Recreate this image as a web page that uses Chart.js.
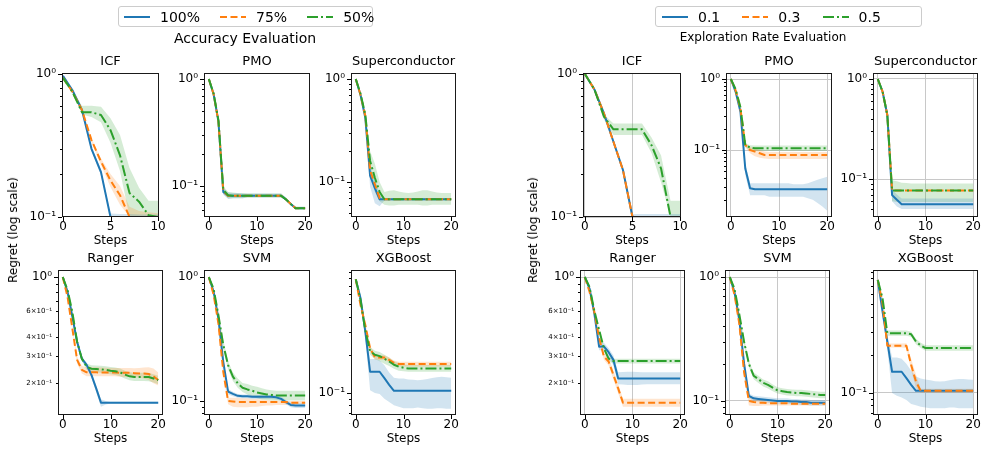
<!DOCTYPE html>
<html>
<head>
<meta charset="utf-8">
<script src="https://cdn.jsdelivr.net/npm/chart.js@4.4.1/dist/chart.umd.min.js"></script>
<style>
  body { margin: 0; background: #fff; width: 997px; height: 471px; position: relative; overflow: hidden; font-family: "DejaVu Sans", sans-serif; color: #000; }
  .plot { position: absolute; }
  .sup { position: absolute; white-space: nowrap; transform: translate(-50%, -50%); }
  .ylab { position: absolute; white-space: nowrap; font-size: 12px; transform: translate(-50%, -50%) rotate(-90deg); }
  .legend { position: absolute; height: 21px; border: 1px solid #cccccc; border-radius: 3px; background: #fff; display: flex; align-items: center; font-size: 14px; box-sizing: border-box; }
  .legend .item { display: flex; align-items: center; }
  .legend svg { display: block; }
</style>
</head>
<body>
<script>
// steps on the x axis
const stepsShort = [0, 1, 2, 3, 4, 5, 6, 7, 8, 9, 10];
const stepsLong = [0, 1, 2, 3, 4, 5, 6, 7, 8, 9, 10, 11, 12, 13, 14, 15, 16, 17, 18, 19, 20];

const accLabels = ['100%', '75%', '50%'];
const expLabels = ['0.1', '0.3', '0.5'];
const panelTitles = ['ICF', 'PMO', 'Superconductor', 'Ranger', 'SVM', 'XGBoost'];

// ---- Accuracy Evaluation ----
const accIcf100 = [0.97, 0.77, 0.56, 0.30, 0.206, 0.1, 0.1, 0.1, 0.1, 0.1, 0.1];
const accIcf100Lo = [0.96, 0.76, 0.55, 0.29, 0.195, 0.1, 0.1, 0.1, 0.1, 0.1, 0.1];
const accIcf100Hi = [0.98, 0.78, 0.57, 0.31, 0.215, 0.106, 0.105, 0.105, 0.104, 0.104, 0.104];
const accIcf75 = [0.94, 0.75, 0.56, 0.345, 0.244, 0.18, 0.142, 0.1, 0.1, 0.1, 0.1];
const accIcf75Lo = [0.93, 0.74, 0.55, 0.335, 0.232, 0.162, 0.122, 0.1, 0.1, 0.1, 0.1];
const accIcf75Hi = [0.95, 0.76, 0.57, 0.355, 0.256, 0.2, 0.165, 0.118, 0.11, 0.108, 0.106];
const accIcf50 = [0.94, 0.75, 0.54, 0.54, 0.517, 0.405, 0.27, 0.147, 0.128, 0.103, 0.1];
const accIcf50Lo = [0.93, 0.74, 0.52, 0.5, 0.46, 0.33, 0.21, 0.1, 0.1, 0.1, 0.1];
const accIcf50Hi = [0.95, 0.76, 0.6, 0.6, 0.59, 0.49, 0.375, 0.22, 0.16, 0.13, 0.13];

const accPmo100 = [1.0, 0.72, 0.40, 0.088, 0.081, 0.081, 0.081, 0.081, 0.081, 0.081, 0.081, 0.081, 0.081, 0.081, 0.081, 0.081, 0.075, 0.068, 0.062, 0.062, 0.062];
const accPmo100Lo = [1.0, 0.71, 0.39, 0.083, 0.076, 0.077, 0.077, 0.077, 0.078, 0.078, 0.078, 0.078, 0.078, 0.078, 0.078, 0.078, 0.073, 0.066, 0.061, 0.061, 0.061];
const accPmo100Hi = [1.0, 0.73, 0.41, 0.095, 0.087, 0.086, 0.086, 0.085, 0.085, 0.085, 0.085, 0.085, 0.085, 0.085, 0.085, 0.085, 0.078, 0.07, 0.064, 0.064, 0.064];
const accPmo75 = [1.0, 0.72, 0.40, 0.09, 0.081, 0.081, 0.081, 0.081, 0.081, 0.081, 0.081, 0.081, 0.081, 0.081, 0.081, 0.081, 0.075, 0.068, 0.062, 0.062, 0.062];
const accPmo50 = [1.0, 0.73, 0.41, 0.092, 0.082, 0.081, 0.081, 0.081, 0.081, 0.081, 0.081, 0.081, 0.081, 0.081, 0.081, 0.081, 0.075, 0.068, 0.062, 0.062, 0.062];
const accPmo50Lo = [1.0, 0.71, 0.39, 0.085, 0.076, 0.077, 0.077, 0.077, 0.078, 0.078, 0.078, 0.078, 0.078, 0.078, 0.078, 0.078, 0.073, 0.066, 0.061, 0.061, 0.061];
const accPmo50Hi = [1.0, 0.74, 0.42, 0.1, 0.088, 0.087, 0.086, 0.086, 0.085, 0.085, 0.085, 0.085, 0.085, 0.085, 0.085, 0.085, 0.078, 0.07, 0.064, 0.064, 0.064];

const accSup100 = [1.0, 0.70, 0.42, 0.115, 0.087, 0.068, 0.068, 0.068, 0.068, 0.068, 0.068, 0.068, 0.068, 0.068, 0.068, 0.068, 0.068, 0.068, 0.068, 0.068, 0.068];
const accSup100Lo = [1.0, 0.69, 0.40, 0.09, 0.062, 0.058, 0.066, 0.066, 0.066, 0.066, 0.066, 0.066, 0.066, 0.066, 0.066, 0.066, 0.066, 0.066, 0.066, 0.066, 0.066];
const accSup100Hi = [1.0, 0.71, 0.44, 0.14, 0.11, 0.076, 0.07, 0.07, 0.07, 0.07, 0.07, 0.07, 0.07, 0.07, 0.07, 0.07, 0.07, 0.07, 0.07, 0.07, 0.07];
const accSup75 = [1.0, 0.70, 0.44, 0.13, 0.095, 0.07, 0.068, 0.068, 0.068, 0.068, 0.068, 0.068, 0.068, 0.068, 0.068, 0.068, 0.068, 0.068, 0.068, 0.068, 0.068];
const accSup50 = [1.0, 0.72, 0.45, 0.16, 0.11, 0.08, 0.068, 0.068, 0.068, 0.068, 0.068, 0.068, 0.068, 0.068, 0.068, 0.068, 0.068, 0.068, 0.068, 0.068, 0.068];
const accSup50Lo = [1.0, 0.70, 0.42, 0.12, 0.08, 0.065, 0.06, 0.059, 0.059, 0.06, 0.06, 0.06, 0.06, 0.06, 0.059, 0.059, 0.06, 0.06, 0.06, 0.06, 0.06];
const accSup50Hi = [1.0, 0.74, 0.48, 0.2, 0.15, 0.1, 0.08, 0.082, 0.083, 0.081, 0.079, 0.078, 0.079, 0.081, 0.083, 0.083, 0.081, 0.079, 0.078, 0.078, 0.078];

const accRan100 = [1.0, 0.80, 0.55, 0.375, 0.29, 0.264, 0.227, 0.185, 0.149, 0.149, 0.149, 0.149, 0.149, 0.149, 0.149, 0.149, 0.149, 0.149, 0.149, 0.149, 0.149];
const accRan100Lo = [1.0, 0.79, 0.54, 0.36, 0.28, 0.255, 0.218, 0.175, 0.14, 0.145, 0.147, 0.147, 0.147, 0.147, 0.147, 0.147, 0.147, 0.147, 0.147, 0.147, 0.147];
const accRan100Hi = [1.0, 0.81, 0.56, 0.39, 0.3, 0.273, 0.236, 0.193, 0.157, 0.153, 0.151, 0.151, 0.151, 0.151, 0.151, 0.151, 0.151, 0.151, 0.151, 0.151, 0.151];
const accRan75 = [1.0, 0.74, 0.46, 0.285, 0.245, 0.236, 0.236, 0.236, 0.235, 0.235, 0.235, 0.235, 0.234, 0.234, 0.234, 0.233, 0.232, 0.232, 0.23, 0.222, 0.21];
const accRan75Lo = [1.0, 0.73, 0.45, 0.27, 0.232, 0.222, 0.222, 0.222, 0.222, 0.222, 0.222, 0.222, 0.221, 0.22, 0.22, 0.219, 0.218, 0.215, 0.21, 0.2, 0.193];
const accRan75Hi = [1.0, 0.75, 0.47, 0.3, 0.26, 0.255, 0.255, 0.255, 0.254, 0.253, 0.252, 0.252, 0.252, 0.252, 0.252, 0.251, 0.252, 0.254, 0.255, 0.25, 0.235];
const accRan50 = [1.0, 0.82, 0.59, 0.375, 0.29, 0.257, 0.249, 0.248, 0.247, 0.245, 0.242, 0.24, 0.236, 0.228, 0.222, 0.22, 0.22, 0.22, 0.22, 0.215, 0.21];
const accRan50Lo = [1.0, 0.81, 0.58, 0.36, 0.28, 0.245, 0.236, 0.235, 0.234, 0.232, 0.229, 0.227, 0.222, 0.215, 0.209, 0.207, 0.207, 0.207, 0.206, 0.202, 0.197];
const accRan50Hi = [1.0, 0.83, 0.6, 0.39, 0.3, 0.27, 0.263, 0.262, 0.261, 0.259, 0.256, 0.254, 0.25, 0.242, 0.236, 0.234, 0.234, 0.234, 0.234, 0.229, 0.224];

const accSvm100 = [1.0, 0.76, 0.46, 0.207, 0.119, 0.114, 0.110, 0.109, 0.109, 0.108, 0.108, 0.108, 0.108, 0.108, 0.107, 0.104, 0.098, 0.093, 0.092, 0.092, 0.092];
const accSvm100Lo = [1.0, 0.75, 0.45, 0.2, 0.113, 0.109, 0.106, 0.105, 0.105, 0.104, 0.104, 0.104, 0.104, 0.104, 0.103, 0.1, 0.094, 0.089, 0.088, 0.088, 0.088];
const accSvm100Hi = [1.0, 0.77, 0.47, 0.215, 0.125, 0.119, 0.114, 0.113, 0.113, 0.112, 0.112, 0.112, 0.112, 0.112, 0.111, 0.108, 0.102, 0.097, 0.096, 0.096, 0.096];
const accSvm75 = [1.0, 0.72, 0.42, 0.172, 0.100, 0.099, 0.098, 0.098, 0.098, 0.098, 0.098, 0.098, 0.098, 0.098, 0.098, 0.098, 0.098, 0.097, 0.097, 0.097, 0.097];
const accSvm75Lo = [1.0, 0.71, 0.40, 0.16, 0.094, 0.09, 0.089, 0.089, 0.089, 0.09, 0.09, 0.091, 0.092, 0.092, 0.093, 0.093, 0.093, 0.094, 0.094, 0.094, 0.094];
const accSvm75Hi = [1.0, 0.73, 0.44, 0.185, 0.106, 0.106, 0.106, 0.105, 0.105, 0.104, 0.104, 0.103, 0.102, 0.101, 0.101, 0.1, 0.1, 0.1, 0.1, 0.1, 0.1];
const accSvm50 = [1.0, 0.80, 0.49, 0.283, 0.195, 0.157, 0.139, 0.128, 0.124, 0.121, 0.117, 0.115, 0.113, 0.112, 0.111, 0.111, 0.111, 0.111, 0.111, 0.111, 0.111];
const accSvm50Lo = [1.0, 0.79, 0.47, 0.26, 0.18, 0.145, 0.128, 0.118, 0.113, 0.108, 0.105, 0.103, 0.102, 0.101, 0.101, 0.101, 0.101, 0.101, 0.101, 0.101, 0.101];
const accSvm50Hi = [1.0, 0.81, 0.51, 0.31, 0.21, 0.17, 0.152, 0.14, 0.137, 0.133, 0.13, 0.127, 0.124, 0.122, 0.121, 0.121, 0.121, 0.121, 0.121, 0.121, 0.121];

const accXgb100 = [0.786, 0.557, 0.304, 0.147, 0.147, 0.147, 0.131, 0.116, 0.104, 0.104, 0.104, 0.104, 0.104, 0.104, 0.104, 0.104, 0.104, 0.104, 0.104, 0.104, 0.104];
const accXgb100Lo = [0.78, 0.54, 0.27, 0.105, 0.1, 0.098, 0.09, 0.085, 0.08, 0.078, 0.076, 0.076, 0.076, 0.077, 0.076, 0.075, 0.075, 0.076, 0.076, 0.075, 0.075];
const accXgb100Hi = [0.79, 0.575, 0.335, 0.185, 0.185, 0.18, 0.165, 0.145, 0.132, 0.13, 0.13, 0.128, 0.127, 0.126, 0.127, 0.129, 0.131, 0.133, 0.134, 0.133, 0.132];
const accXgb75 = [0.786, 0.493, 0.343, 0.225, 0.191, 0.19, 0.19, 0.182, 0.173, 0.169, 0.169, 0.169, 0.169, 0.169, 0.169, 0.169, 0.169, 0.169, 0.169, 0.169, 0.169];
const accXgb75Lo = [0.78, 0.48, 0.33, 0.215, 0.183, 0.182, 0.182, 0.175, 0.166, 0.162, 0.162, 0.162, 0.162, 0.162, 0.162, 0.162, 0.162, 0.162, 0.162, 0.162, 0.162];
const accXgb75Hi = [0.79, 0.505, 0.355, 0.235, 0.199, 0.198, 0.198, 0.19, 0.18, 0.176, 0.176, 0.176, 0.176, 0.176, 0.176, 0.176, 0.176, 0.176, 0.176, 0.176, 0.176];
const accXgb50 = [0.786, 0.54, 0.31, 0.214, 0.2, 0.195, 0.186, 0.177, 0.167, 0.161, 0.158, 0.156, 0.156, 0.156, 0.156, 0.156, 0.156, 0.156, 0.156, 0.156, 0.156];
const accXgb50Lo = [0.78, 0.53, 0.3, 0.2, 0.185, 0.178, 0.17, 0.163, 0.155, 0.15, 0.148, 0.147, 0.147, 0.147, 0.147, 0.147, 0.147, 0.147, 0.147, 0.147, 0.147];
const accXgb50Hi = [0.79, 0.55, 0.32, 0.23, 0.215, 0.21, 0.2, 0.19, 0.178, 0.172, 0.168, 0.166, 0.166, 0.166, 0.166, 0.166, 0.166, 0.166, 0.166, 0.166, 0.166];

// ---- Exploration Rate Evaluation ----
const expIcf01 = [1.0, 0.78, 0.53, 0.336, 0.213, 0.1, 0.1, 0.1, 0.1, 0.1, 0.1];
const expIcf01Lo = [1.0, 0.77, 0.52, 0.33, 0.207, 0.1, 0.1, 0.1, 0.1, 0.1, 0.1];
const expIcf01Hi = [1.0, 0.79, 0.54, 0.342, 0.22, 0.105, 0.105, 0.105, 0.105, 0.105, 0.105];
const expIcf03 = [1.0, 0.78, 0.53, 0.336, 0.213, 0.1, 0.1, 0.1, 0.1, 0.1, 0.1];
const expIcf05 = [1.0, 0.78, 0.503, 0.41, 0.41, 0.41, 0.41, 0.318, 0.219, 0.1, 0.1];
const expIcf05Lo = [1.0, 0.77, 0.48, 0.375, 0.375, 0.375, 0.375, 0.28, 0.175, 0.1, 0.1];
const expIcf05Hi = [1.0, 0.79, 0.52, 0.45, 0.45, 0.45, 0.45, 0.36, 0.27, 0.13, 0.13];

const expPmo01 = [1.0, 0.66, 0.346, 0.055, 0.029, 0.028, 0.028, 0.028, 0.028, 0.028, 0.028, 0.028, 0.028, 0.028, 0.028, 0.028, 0.028, 0.028, 0.028, 0.028, 0.028];
const expPmo01Lo = [1.0, 0.65, 0.33, 0.045, 0.023, 0.023, 0.023, 0.023, 0.022, 0.022, 0.022, 0.022, 0.022, 0.022, 0.022, 0.022, 0.021, 0.02, 0.018, 0.016, 0.014];
const expPmo01Hi = [1.0, 0.67, 0.36, 0.065, 0.034, 0.034, 0.034, 0.034, 0.034, 0.034, 0.034, 0.034, 0.034, 0.033, 0.033, 0.033, 0.034, 0.036, 0.038, 0.04, 0.042];
const expPmo03 = [1.0, 0.69, 0.38, 0.118, 0.1, 0.095, 0.09, 0.085, 0.085, 0.085, 0.085, 0.085, 0.085, 0.085, 0.085, 0.085, 0.085, 0.085, 0.085, 0.085, 0.085];
const expPmo03Lo = [1.0, 0.68, 0.37, 0.11, 0.09, 0.082, 0.078, 0.076, 0.075, 0.075, 0.075, 0.075, 0.075, 0.075, 0.075, 0.075, 0.075, 0.075, 0.075, 0.075, 0.075];
const expPmo03Hi = [1.0, 0.70, 0.39, 0.125, 0.11, 0.105, 0.1, 0.095, 0.094, 0.094, 0.094, 0.094, 0.094, 0.094, 0.094, 0.094, 0.094, 0.094, 0.094, 0.094, 0.094];
const expPmo05 = [1.0, 0.72, 0.40, 0.118, 0.108, 0.106, 0.106, 0.106, 0.106, 0.106, 0.106, 0.106, 0.106, 0.106, 0.106, 0.106, 0.106, 0.106, 0.106, 0.106, 0.106];
const expPmo05Lo = [1.0, 0.71, 0.39, 0.11, 0.098, 0.097, 0.097, 0.097, 0.097, 0.097, 0.097, 0.097, 0.097, 0.097, 0.097, 0.097, 0.097, 0.097, 0.097, 0.097, 0.097];
const expPmo05Hi = [1.0, 0.73, 0.41, 0.125, 0.117, 0.116, 0.116, 0.116, 0.116, 0.116, 0.116, 0.116, 0.116, 0.116, 0.116, 0.116, 0.116, 0.116, 0.116, 0.116, 0.116];

const expSup01 = [1.0, 0.75, 0.437, 0.069, 0.062, 0.056, 0.056, 0.056, 0.056, 0.056, 0.056, 0.056, 0.056, 0.056, 0.056, 0.056, 0.056, 0.056, 0.056, 0.056, 0.056];
const expSup01Lo = [1.0, 0.74, 0.42, 0.06, 0.053, 0.05, 0.05, 0.05, 0.05, 0.05, 0.05, 0.05, 0.05, 0.05, 0.05, 0.05, 0.05, 0.05, 0.05, 0.05, 0.05];
const expSup01Hi = [1.0, 0.76, 0.45, 0.078, 0.07, 0.064, 0.064, 0.064, 0.064, 0.064, 0.064, 0.064, 0.064, 0.064, 0.064, 0.064, 0.064, 0.064, 0.064, 0.064, 0.064];
const expSup03 = [1.0, 0.75, 0.437, 0.0766, 0.0766, 0.0766, 0.0766, 0.0766, 0.0766, 0.0766, 0.0766, 0.0766, 0.0766, 0.0766, 0.0766, 0.0766, 0.0766, 0.0766, 0.0766, 0.0766, 0.0766];
const expSup05 = [1.0, 0.75, 0.437, 0.0766, 0.0766, 0.0766, 0.0766, 0.0766, 0.0766, 0.0766, 0.0766, 0.0766, 0.0766, 0.0766, 0.0766, 0.0766, 0.0766, 0.0766, 0.0766, 0.0766, 0.0766];
const expSup05Lo = [1.0, 0.74, 0.42, 0.06, 0.059, 0.059, 0.059, 0.059, 0.059, 0.059, 0.059, 0.059, 0.059, 0.059, 0.059, 0.059, 0.059, 0.059, 0.059, 0.059, 0.059];
const expSup05Hi = [1.0, 0.76, 0.45, 0.097, 0.095, 0.092, 0.091, 0.09, 0.09, 0.09, 0.09, 0.09, 0.09, 0.09, 0.09, 0.09, 0.09, 0.09, 0.09, 0.09, 0.09];

const expRan01 = [1.0, 0.84, 0.577, 0.348, 0.35, 0.32, 0.285, 0.215, 0.215, 0.215, 0.215, 0.215, 0.215, 0.215, 0.215, 0.215, 0.215, 0.215, 0.215, 0.215, 0.215];
const expRan01Lo = [1.0, 0.83, 0.56, 0.33, 0.33, 0.3, 0.262, 0.197, 0.196, 0.195, 0.195, 0.195, 0.196, 0.197, 0.197, 0.197, 0.197, 0.197, 0.197, 0.197, 0.197];
const expRan01Hi = [1.0, 0.85, 0.59, 0.365, 0.37, 0.34, 0.305, 0.236, 0.237, 0.238, 0.238, 0.237, 0.236, 0.236, 0.236, 0.236, 0.236, 0.236, 0.236, 0.236, 0.236];
const expRan03 = [1.0, 0.8, 0.59, 0.4, 0.30, 0.278, 0.227, 0.185, 0.149, 0.149, 0.149, 0.149, 0.149, 0.149, 0.149, 0.149, 0.149, 0.149, 0.149, 0.149, 0.149];
const expRan03Lo = [1.0, 0.79, 0.575, 0.385, 0.285, 0.262, 0.212, 0.172, 0.14, 0.14, 0.14, 0.14, 0.14, 0.14, 0.14, 0.14, 0.14, 0.14, 0.14, 0.14, 0.14];
const expRan03Hi = [1.0, 0.81, 0.605, 0.415, 0.315, 0.294, 0.242, 0.198, 0.158, 0.158, 0.158, 0.158, 0.158, 0.158, 0.158, 0.158, 0.158, 0.158, 0.158, 0.158, 0.158];
const expRan05 = [1.0, 0.86, 0.6, 0.45, 0.34, 0.29, 0.28, 0.28, 0.28, 0.28, 0.28, 0.28, 0.28, 0.28, 0.28, 0.28, 0.28, 0.28, 0.28, 0.28, 0.28];
const expRan05Lo = [1.0, 0.85, 0.59, 0.44, 0.33, 0.28, 0.27, 0.27, 0.27, 0.27, 0.27, 0.27, 0.27, 0.27, 0.27, 0.27, 0.27, 0.27, 0.27, 0.27, 0.27];
const expRan05Hi = [1.0, 0.87, 0.61, 0.46, 0.35, 0.3, 0.29, 0.29, 0.29, 0.29, 0.29, 0.29, 0.29, 0.29, 0.29, 0.29, 0.29, 0.29, 0.29, 0.29, 0.29];

const expSvm01 = [1.0, 0.75, 0.45, 0.2, 0.11, 0.105, 0.104, 0.103, 0.102, 0.101, 0.1, 0.1, 0.1, 0.099, 0.099, 0.098, 0.098, 0.097, 0.097, 0.097, 0.097];
const expSvm01Lo = [1.0, 0.74, 0.44, 0.19, 0.105, 0.1, 0.099, 0.098, 0.097, 0.096, 0.095, 0.095, 0.095, 0.094, 0.094, 0.093, 0.093, 0.092, 0.092, 0.092, 0.092];
const expSvm01Hi = [1.0, 0.76, 0.46, 0.21, 0.115, 0.11, 0.109, 0.108, 0.107, 0.106, 0.105, 0.105, 0.105, 0.104, 0.104, 0.103, 0.103, 0.102, 0.102, 0.102, 0.102];
const expSvm03 = [1.0, 0.72, 0.42, 0.17, 0.1, 0.098, 0.097, 0.097, 0.096, 0.096, 0.096, 0.096, 0.096, 0.095, 0.095, 0.095, 0.095, 0.095, 0.095, 0.095, 0.095];
const expSvm03Lo = [1.0, 0.71, 0.4, 0.155, 0.092, 0.091, 0.091, 0.092, 0.092, 0.092, 0.092, 0.092, 0.092, 0.092, 0.092, 0.092, 0.092, 0.092, 0.092, 0.092, 0.092];
const expSvm03Hi = [1.0, 0.73, 0.44, 0.19, 0.112, 0.106, 0.103, 0.101, 0.1, 0.099, 0.099, 0.099, 0.099, 0.098, 0.098, 0.098, 0.098, 0.098, 0.098, 0.098, 0.098];
const expSvm05 = [1.0, 0.8, 0.5, 0.3, 0.2, 0.16, 0.15, 0.14, 0.135, 0.128, 0.122, 0.12, 0.118, 0.117, 0.116, 0.116, 0.115, 0.114, 0.113, 0.112, 0.112];
const expSvm05Lo = [1.0, 0.79, 0.48, 0.28, 0.188, 0.15, 0.14, 0.131, 0.126, 0.12, 0.115, 0.113, 0.111, 0.11, 0.109, 0.109, 0.108, 0.107, 0.106, 0.105, 0.105];
const expSvm05Hi = [1.0, 0.81, 0.52, 0.32, 0.212, 0.17, 0.16, 0.149, 0.144, 0.136, 0.129, 0.127, 0.125, 0.124, 0.123, 0.123, 0.122, 0.121, 0.12, 0.119, 0.119];

const expXgb01 = [0.777, 0.437, 0.254, 0.147, 0.147, 0.147, 0.131, 0.116, 0.104, 0.104, 0.104, 0.104, 0.104, 0.104, 0.104, 0.104, 0.104, 0.104, 0.104, 0.104, 0.104];
const expXgb01Lo = [0.77, 0.42, 0.22, 0.1, 0.095, 0.092, 0.088, 0.082, 0.08, 0.078, 0.077, 0.076, 0.076, 0.076, 0.076, 0.077, 0.077, 0.076, 0.076, 0.076, 0.076];
const expXgb01Hi = [0.785, 0.46, 0.29, 0.19, 0.19, 0.186, 0.17, 0.15, 0.135, 0.13, 0.128, 0.126, 0.124, 0.123, 0.124, 0.126, 0.128, 0.129, 0.129, 0.128, 0.127];
const expXgb03 = [0.777, 0.508, 0.236, 0.236, 0.236, 0.236, 0.236, 0.166, 0.123, 0.104, 0.104, 0.104, 0.104, 0.104, 0.104, 0.104, 0.104, 0.104, 0.104, 0.104, 0.104];
const expXgb03Lo = [0.77, 0.5, 0.228, 0.228, 0.228, 0.228, 0.226, 0.15, 0.11, 0.1, 0.1, 0.1, 0.1, 0.1, 0.1, 0.1, 0.1, 0.1, 0.1, 0.1, 0.1];
const expXgb03Hi = [0.785, 0.516, 0.245, 0.245, 0.245, 0.245, 0.246, 0.185, 0.14, 0.108, 0.108, 0.108, 0.108, 0.108, 0.108, 0.108, 0.108, 0.108, 0.108, 0.108, 0.108];
const expXgb05 = [0.777, 0.557, 0.295, 0.295, 0.295, 0.295, 0.295, 0.29, 0.254, 0.237, 0.226, 0.226, 0.226, 0.226, 0.226, 0.226, 0.226, 0.226, 0.226, 0.226, 0.226];
const expXgb05Lo = [0.77, 0.545, 0.282, 0.282, 0.282, 0.282, 0.282, 0.277, 0.242, 0.226, 0.215, 0.215, 0.215, 0.215, 0.215, 0.215, 0.215, 0.215, 0.215, 0.215, 0.215];
const expXgb05Hi = [0.785, 0.57, 0.31, 0.31, 0.31, 0.31, 0.31, 0.304, 0.267, 0.249, 0.238, 0.238, 0.238, 0.238, 0.238, 0.238, 0.238, 0.238, 0.238, 0.238, 0.238];

// styling
const FONT = 'DejaVu Sans';
const lineColors = ['#1f77b4', '#ff7f0e', '#2ca02c'];
const bandColors = ['rgba(31,119,180,0.2)', 'rgba(255,127,14,0.2)', 'rgba(44,160,44,0.2)'];
const lineDashes = [[], [7, 3.5], [11, 3, 2, 3]];

const Y_AXIS_W = 50, X_AXIS_H = 31, TITLE_H = 22, PAD_R = 12;

// panel layout: box = [left, top, width, height] of the plot area
const panels = [
  { title: panelTitles[0], box: [62, 73, 97, 144], x: [-0.1, 10.1], xticks: [0, 5, 10], y: [0.1, 1.016], ylab: [1, 0.1], steps: stepsShort, grid: false,
    series: [[accIcf100, accIcf100Lo, accIcf100Hi], [accIcf75, accIcf75Lo, accIcf75Hi], [accIcf50, accIcf50Lo, accIcf50Hi]] },
  { title: panelTitles[1], box: [204, 73, 106, 144], x: [-1, 21], xticks: [0, 10, 20], y: [0.0513, 1.138], ylab: [1, 0.1], steps: stepsLong, grid: false,
    series: [[accPmo100, accPmo100Lo, accPmo100Hi], [accPmo75], [accPmo50, accPmo50Lo, accPmo50Hi]] },
  { title: panelTitles[2], box: [351, 73, 105, 144], x: [-1, 21], xticks: [0, 10, 20], y: [0.0457, 1.144], ylab: [1, 0.1], steps: stepsLong, grid: false,
    series: [[accSup100, accSup100Lo, accSup100Hi], [accSup75], [accSup50, accSup50Lo, accSup50Hi]] },
  { title: panelTitles[3], box: [58, 270, 105, 145], x: [-1, 21], xticks: [0, 10, 20], y: [0.1236, 1.112], ylab: [1, 0.6, 0.4, 0.3, 0.2], steps: stepsLong, grid: false,
    series: [[accRan100, accRan100Lo, accRan100Hi], [accRan75, accRan75Lo, accRan75Hi], [accRan50, accRan50Lo, accRan50Hi]] },
  { title: panelTitles[4], box: [204, 270, 106, 145], x: [-1, 21], xticks: [0, 10, 20], y: [0.0771, 1.139], ylab: [1, 0.1], steps: stepsLong, grid: false,
    series: [[accSvm100, accSvm100Lo, accSvm100Hi], [accSvm75, accSvm75Lo, accSvm75Hi], [accSvm50, accSvm50Lo, accSvm50Hi]] },
  { title: panelTitles[5], box: [351, 270, 105, 145], x: [-1, 21], xticks: [0, 10, 20], y: [0.0671, 0.93], ylab: [0.1], steps: stepsLong, grid: false,
    series: [[accXgb100, accXgb100Lo, accXgb100Hi], [accXgb75, accXgb75Lo, accXgb75Hi], [accXgb50, accXgb50Lo, accXgb50Hi]] },

  { title: panelTitles[0], box: [583, 73, 98, 144], x: [-0.2, 10.1], xticks: [0, 5, 10], y: [0.1, 1.016], ylab: [1, 0.1], steps: stepsShort, grid: true,
    series: [[expIcf01, expIcf01Lo, expIcf01Hi], [expIcf03], [expIcf05, expIcf05Lo, expIcf05Hi]] },
  { title: panelTitles[1], box: [726, 73, 106, 144], x: [-1, 21], xticks: [0, 10, 20], y: [0.0114, 1.215], ylab: [1, 0.1], steps: stepsLong, grid: true,
    series: [[expPmo01, expPmo01Lo, expPmo01Hi], [expPmo03, expPmo03Lo, expPmo03Hi], [expPmo05, expPmo05Lo, expPmo05Hi]] },
  { title: panelTitles[2], box: [873, 73, 105, 144], x: [-1, 21], xticks: [0, 10, 20], y: [0.0417, 1.148], ylab: [1, 0.1], steps: stepsLong, grid: true,
    series: [[expSup01, expSup01Lo, expSup01Hi], [expSup03], [expSup05, expSup05Lo, expSup05Hi]] },
  { title: panelTitles[3], box: [580, 270, 105, 145], x: [-1, 21], xticks: [0, 10, 20], y: [0.1236, 1.112], ylab: [1, 0.6, 0.4, 0.3, 0.2], steps: stepsLong, grid: true,
    series: [[expRan01, expRan01Lo, expRan01Hi], [expRan03, expRan03Lo, expRan03Hi], [expRan05, expRan05Lo, expRan05Hi]] },
  { title: panelTitles[4], box: [725, 270, 105, 145], x: [-1, 21], xticks: [0, 10, 20], y: [0.0771, 1.139], ylab: [1, 0.1], steps: stepsLong, grid: true,
    series: [[expSvm01, expSvm01Lo, expSvm01Hi], [expSvm03, expSvm03Lo, expSvm03Hi], [expSvm05, expSvm05Lo, expSvm05Hi]] },
  { title: panelTitles[5], box: [873, 270, 105, 145], x: [-1, 21], xticks: [0, 10, 20], y: [0.0671, 0.93], ylab: [0.1], steps: stepsLong, grid: true,
    series: [[expXgb01, expXgb01Lo, expXgb01Hi], [expXgb03, expXgb03Lo, expXgb03Hi], [expXgb05, expXgb05Lo, expXgb05Hi]] }
];

const SUP = { '0': '⁰', '1': '¹', '2': '²', '3': '³', '-': '⁻' };
function isPow10(v) {
  const l = Math.log10(v);
  return Math.abs(l - Math.round(l)) < 1e-6;
}
function logLabel(v) {
  const e = Math.floor(Math.log10(v) + 1e-9);
  const m = Math.round(v / Math.pow(10, e));
  const p = '10' + String(e).split('').map(c => SUP[c]).join('');
  return m === 1 ? p : m + '×' + p;
}

// ticks outside the box and the box itself, like matplotlib spines
const axesFrame = {
  id: 'axesFrame',
  afterDraw(chart) {
    const { ctx, chartArea: a, scales: { x, y } } = chart;
    ctx.save();
    ctx.strokeStyle = '#000';
    ctx.lineWidth = 1;
    ctx.beginPath();
    const lo = Math.floor(Math.log10(y.min)), hi = Math.ceil(Math.log10(y.max));
    for (let n = lo; n <= hi; n++) {
      for (let k = 1; k < 10; k++) {
        const v = k * Math.pow(10, n);
        if (v < y.min || v > y.max) continue;
        const py = Math.round(y.getPixelForValue(v)) + 0.5;
        const len = k === 1 ? 4 : 2;
        ctx.moveTo(a.left - len, py);
        ctx.lineTo(a.left, py);
      }
    }
    x.ticks.forEach(t => {
      const px = Math.round(x.getPixelForValue(t.value)) + 0.5;
      ctx.moveTo(px, a.bottom);
      ctx.lineTo(px, a.bottom + 4);
    });
    ctx.stroke();
    ctx.strokeStyle = '#1a1a1a';
    ctx.strokeRect(a.left + 0.5, a.top + 0.5, a.width - 1, a.height - 1);
    ctx.restore();
  }
};

function pts(steps, vals) {
  return steps.map((s, i) => ({ x: s, y: vals[i] }));
}

function makePanel(p) {
  const c = document.createElement('canvas');
  c.className = 'plot';
  c.width = Y_AXIS_W + p.box[2] + PAD_R;
  c.height = TITLE_H + p.box[3] + X_AXIS_H;
  c.style.left = (p.box[0] - Y_AXIS_W) + 'px';
  c.style.top = (p.box[1] - TITLE_H) + 'px';
  document.body.appendChild(c);

  const datasets = [];
  p.series.forEach((s, i) => {
    if (s[1] && s[2]) {
      datasets.push({ data: pts(p.steps, s[1]), borderWidth: 0, pointRadius: 0, fill: false, order: 10 });
      datasets.push({ data: pts(p.steps, s[2]), borderWidth: 0, pointRadius: 0, fill: '-1', backgroundColor: bandColors[i], order: 10 });
    }
    datasets.push({
      data: pts(p.steps, s[0]), borderColor: lineColors[i], borderWidth: 2, borderDash: lineDashes[i],
      borderJoinStyle: 'round', pointRadius: 0, fill: false, tension: 0, order: 3 - i
    });
  });

  new Chart(c, {
    type: 'line',
    data: { datasets },
    options: {
      responsive: false,
      animation: false,
      events: [],
      layout: { padding: { left: 0, right: PAD_R, top: 0, bottom: 0 } },
      plugins: {
        legend: { display: false },
        tooltip: { enabled: false },
        // not full size, so the title is centred over the plot box only
        title: {
          display: true, fullSize: false, text: p.title, color: '#000',
          font: { family: FONT, size: 13, weight: 'normal', lineHeight: '16px' },
          padding: { top: 3, bottom: 3 }
        }
      },
      scales: {
        x: {
          type: 'linear', bounds: 'data', min: p.x[0], max: p.x[1],
          afterBuildTicks: s => { s.ticks = p.xticks.map(v => ({ value: v })); },
          afterFit: s => { s.height = X_AXIS_H; },
          ticks: { autoSkip: false, maxRotation: 0, padding: 3, color: '#000', font: { family: FONT, size: 12 }, callback: v => String(v) },
          grid: { display: p.grid, drawTicks: false, color: '#c8c8c8', lineWidth: 1 },
          border: { display: false },
          title: { display: true, text: 'Steps', color: '#000', font: { family: FONT, size: 12 }, padding: { top: 0, bottom: 0 } }
        },
        y: {
          type: 'logarithmic', bounds: 'data', min: p.y[0], max: p.y[1],
          afterBuildTicks: s => { s.ticks = p.ylab.map(v => ({ value: v })); },
          afterFit: s => { s.width = Y_AXIS_W; },
          ticks: {
            autoSkip: false, padding: 6, color: '#000',
            font: ctx => ({ family: FONT, size: (ctx.tick && !isPow10(ctx.tick.value)) ? 7 : 12 }),
            callback: v => logLabel(v)
          },
          grid: {
            display: p.grid, drawTicks: false, lineWidth: 1,
            color: ctx => (ctx.tick && isPow10(ctx.tick.value)) ? '#c8c8c8' : 'rgba(0,0,0,0)'
          },
          border: { display: false }
        }
      }
    },
    plugins: [axesFrame]
  });
}

function makeText(cls, text, x, y, size) {
  const d = document.createElement('div');
  d.className = cls;
  d.textContent = text;
  d.style.left = x + 'px';
  d.style.top = y + 'px';
  if (size) d.style.fontSize = size + 'px';
  document.body.appendChild(d);
}

function makeLegend(labels, left, top, width, padL, gapText, gapItem) {
  const box = document.createElement('div');
  box.className = 'legend';
  box.style.left = left + 'px';
  box.style.top = top + 'px';
  box.style.width = width + 'px';
  box.style.paddingLeft = padL + 'px';
  labels.forEach((lab, i) => {
    const item = document.createElement('div');
    item.className = 'item';
    item.style.marginRight = gapItem + 'px';
    const dash = lineDashes[i].length ? ' stroke-dasharray="' + lineDashes[i].join(' ') + '"' : '';
    item.innerHTML = '<svg width="26" height="10"><line x1="0" y1="5" x2="26" y2="5" stroke="' + lineColors[i] +
      '" stroke-width="2"' + dash + '/></svg><span style="margin-left:' + gapText + 'px">' + lab + '</span>';
    box.appendChild(item);
  });
  document.body.appendChild(box);
}

panels.forEach(makePanel);

makeLegend(accLabels, 118, 6, 255, 5, 10, 20);
makeLegend(expLabels, 655, 6, 267, 6, 10, 22);
makeText('sup', 'Accuracy Evaluation', 245, 38, 14);
makeText('sup', 'Exploration Rate Evaluation', 763, 37, 12);
makeText('ylab', 'Regret (log scale)', 13, 230);
makeText('ylab', 'Regret (log scale)', 533, 230);
</script>
</body>
</html>
